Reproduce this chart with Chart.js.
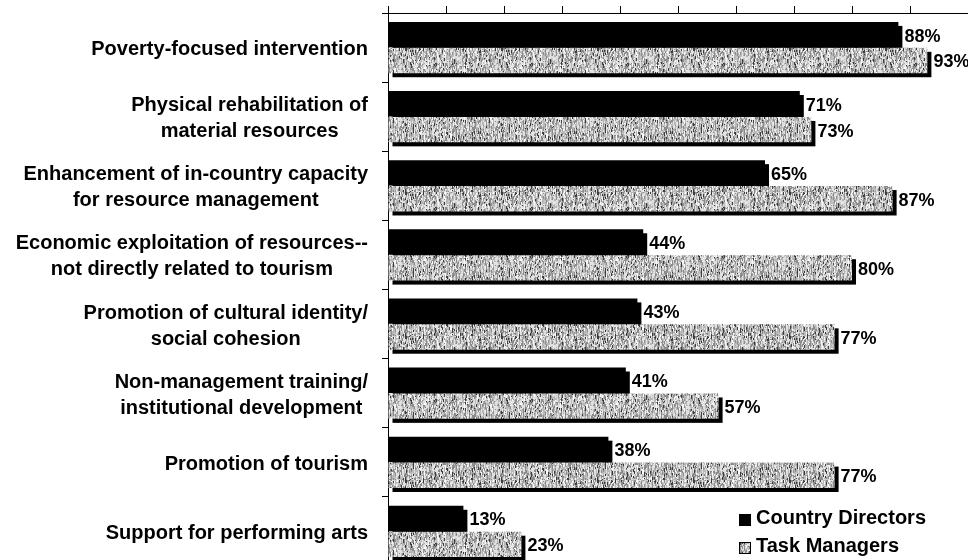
<!DOCTYPE html>
<html>
<head>
<meta charset="utf-8">
<script src="https://cdn.jsdelivr.net/npm/chart.js@4"></script>
<style>
  html, body { margin: 0; padding: 0; background: #fff; overflow: hidden; }
  #wrap { width: 968px; height: 600px; }
</style>
</head>
<body>
<div id="wrap"><canvas id="chart" width="968" height="600"></canvas></div>
<script>
// Category labels (one entry per line) and survey shares in percent
const categories = [
    ['Poverty-focused intervention'],
    ['Physical rehabilitation of', 'material resources'],
    ['Enhancement of in-country capacity', 'for resource management'],
    ['Economic exploitation of resources--', 'not directly related to tourism'],
    ['Promotion of cultural identity/', 'social cohesion'],
    ['Non-management training/', 'institutional development'],
    ['Promotion of tourism'],
    ['Support for performing arts']
];
const countryDirectors = [88, 71, 65, 44, 43, 41, 38, 13];
const taskManagers = [93, 73, 87, 80, 77, 57, 77, 23];
const seriesNames = ['Country Directors', 'Task Managers'];
const xTicks = [0, 10, 20, 30, 40, 50, 60, 70, 80, 90, 100];

const FONT = '"Liberation Sans", Arial, sans-serif';
const SHADOW = 4;

// Fine grey grain, like an old halftone print
function makeSpeckle() {
    const W = 96, H = 48;
    const c = document.createElement('canvas');
    c.width = W;
    c.height = H;
    const g = c.getContext('2d');
    const img = g.createImageData(W, H);
    let seed = 9871;
    const next = () => {
        seed = (seed * 1103515245 + 12345) & 0x7fffffff;
        return seed / 0x7fffffff;
    };
    for (let x = 0; x < W; x++) {
        const colBias = next();
        let y = 0;
        while (y < H) {
            const run = 1 + Math.floor(next() * 3);
            const r = next() * 0.8 + colBias * 0.2;
            let v;
            if (r < 0.15) v = 60;
            else if (r < 0.35) v = 140;
            else if (r < 0.6) v = 185;
            else if (r < 0.85) v = 225;
            else v = 250;
            for (let k = 0; k < run && y < H; k++, y++) {
                const i = (y * W + x) * 4;
                img.data[i] = img.data[i + 1] = img.data[i + 2] = v;
                img.data[i + 3] = 255;
            }
        }
    }
    g.putImageData(img, 0, 0);
    return g.createPattern(c, 'repeat');
}
const speckle = makeSpeckle();

// Offset black shadow behind every bar
const barShadows = {
    id: 'barShadows',
    beforeDatasetsDraw(chart) {
        const ctx = chart.ctx;
        ctx.save();
        ctx.fillStyle = '#000';
        chart.data.datasets.forEach((ds, di) => {
            chart.getDatasetMeta(di).data.forEach(bar => {
                const top = bar.y - bar.height / 2;
                ctx.fillRect(bar.base + SHADOW, top + SHADOW, bar.x - bar.base, bar.height);
            });
        });
        ctx.restore();
    }
};

// Percent labels at the end of each bar
const valueLabels = {
    id: 'valueLabels',
    afterDatasetsDraw(chart) {
        const ctx = chart.ctx;
        ctx.save();
        ctx.font = 'bold 18px ' + FONT;
        ctx.fillStyle = '#000';
        ctx.textAlign = 'left';
        ctx.textBaseline = 'middle';
        chart.data.datasets.forEach((ds, di) => {
            chart.getDatasetMeta(di).data.forEach((bar, i) => {
                ctx.fillText(ds.data[i] + '%', bar.x + SHADOW + 2, bar.y + 2);
            });
        });
        ctx.restore();
    }
};

// Category names: block right-aligned to the axis, lines centred within it
const categoryLabels = {
    id: 'categoryLabels',
    afterDraw(chart) {
        const ctx = chart.ctx;
        const y = chart.scales.y;
        const right = chart.chartArea.left - 20;
        const lineH = 26;
        ctx.save();
        ctx.font = 'bold 20px ' + FONT;
        ctx.fillStyle = '#000';
        ctx.textAlign = 'center';
        ctx.textBaseline = 'middle';
        categories.forEach((lines, i) => {
            const w = Math.max(...lines.map(l => ctx.measureText(l).width));
            const cx = right - w / 2;
            const cy = y.getPixelForValue(i) + 2;
            lines.forEach((l, k) => {
                ctx.fillText(l, cx, cy + (k - (lines.length - 1) / 2) * lineH);
            });
        });
        ctx.restore();
    }
};

// Legend box in the lower right corner
const cornerLegend = {
    id: 'cornerLegend',
    afterDraw(chart) {
        const ctx = chart.ctx;
        const x = 739;
        const rows = [518, 546];
        ctx.save();
        ctx.font = 'bold 20px ' + FONT;
        ctx.textAlign = 'left';
        ctx.textBaseline = 'middle';
        chart.data.datasets.forEach((ds, di) => {
            const cy = rows[di];
            ctx.fillStyle = ds.backgroundColor;
            ctx.fillRect(x, cy - 4, 12, 12);
            if (di === 1) {
                ctx.strokeStyle = '#000';
                ctx.lineWidth = 1;
                ctx.strokeRect(x + 0.5, cy - 3.5, 11, 11);
            }
            ctx.fillStyle = '#000';
            ctx.fillText(seriesNames[di], x + 17, cy);
        });
        ctx.restore();
    }
};

new Chart(document.getElementById('chart'), {
    type: 'bar',
    data: {
        labels: categories.map(c => c.join(' ')),
        datasets: [
            { label: seriesNames[0], data: countryDirectors, backgroundColor: '#000' },
            { label: seriesNames[1], data: taskManagers, backgroundColor: speckle }
        ]
    },
    options: {
        indexAxis: 'y',
        responsive: false,
        animation: false,
        events: [],
        categoryPercentage: 0.75,
        barPercentage: 0.98,
        layout: { padding: { left: 382, top: 6, right: 0, bottom: 34 } },
        plugins: {
            legend: { display: false },
            tooltip: { enabled: false }
        },
        scales: {
            x: {
                position: 'top',
                min: xTicks[0],
                max: xTicks[xTicks.length - 1],
                afterBuildTicks: scale => {
                    scale.ticks = xTicks.map(v => ({ value: v }));
                },
                ticks: { display: false },
                grid: { drawOnChartArea: false, tickLength: 7, color: '#000' },
                border: { color: '#000', width: 1 }
            },
            y: {
                ticks: { display: false },
                grid: { drawOnChartArea: false, tickLength: 6, color: '#000', offset: true },
                border: { color: '#000', width: 1 }
            }
        }
    },
    plugins: [barShadows, valueLabels, categoryLabels, cornerLegend]
});
</script>
</body>
</html>
